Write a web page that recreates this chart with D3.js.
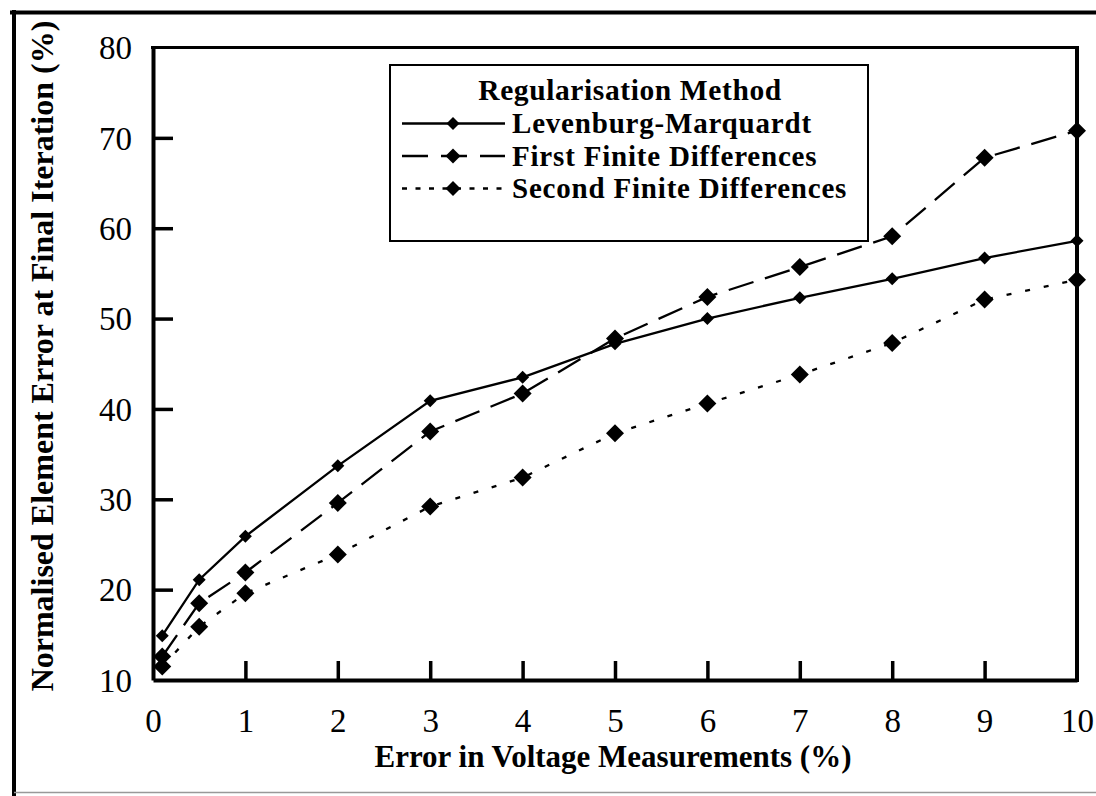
<!DOCTYPE html>
<html>
<head>
<meta charset="utf-8">
<script src="https://cdn.jsdelivr.net/npm/d3@7"></script>
<style>
  html, body { margin: 0; padding: 0; background: #fff; }
  svg { display: block; }
  text { font-family: "Liberation Serif", "Times New Roman", serif; fill: #000; }
</style>
</head>
<body>
<svg id="chart" width="1096" height="796"></svg>
<script>
// Error in voltage measurements (%)
const errorLevels = [0.1, 0.5, 1, 2, 3, 4, 5, 6, 7, 8, 9, 10];
// Normalised element error at final iteration (%)
const levenburgMarquardt = [14.9, 21.1, 25.9, 33.7, 40.9, 43.5, 47.2, 50.0, 52.3, 54.4, 56.7, 58.6];
const firstFiniteDiff    = [12.6, 18.5, 21.9, 29.6, 37.5, 41.7, 47.8, 52.4, 55.7, 59.1, 67.8, 70.8];
const secondFiniteDiff   = [11.5, 15.9, 19.6, 23.9, 29.2, 32.4, 37.3, 40.6, 43.8, 47.3, 52.1, 54.3];

const seriesNames = ["Levenburg-Marquardt", "First Finite Differences", "Second Finite Differences"];
const xTicks = [0, 1, 2, 3, 4, 5, 6, 7, 8, 9, 10];
const yTicks = [10, 20, 30, 40, 50, 60, 70, 80];

const legendTitle = "Regularisation Method";
const xTitle = "Error in Voltage Measurements (%)";
const yTitle = "Normalised Element Error at Final Iteration (%)";

const svg = d3.select("#chart");

const plot = { left: 153, right: 1077, top: 47.5, bottom: 680 };
const x = d3.scaleLinear().domain([0, 10]).range([plot.left, plot.right]);
const y = d3.scaleLinear().domain([10, 80]).range([plot.bottom, plot.top]);

// page frame
svg.append("line").attr("x1", 10).attr("x2", 1096).attr("y1", 12.5).attr("y2", 12.5)
  .attr("stroke", "#000").attr("stroke-width", 4);
svg.append("line").attr("x1", 14).attr("x2", 14).attr("y1", 10).attr("y2", 796)
  .attr("stroke", "#000").attr("stroke-width", 4);
svg.append("line").attr("x1", 14).attr("x2", 1096).attr("y1", 792.5).attr("y2", 792.5)
  .attr("stroke", "#999").attr("stroke-width", 1.5);

// axes with inward ticks
const xAxis = d3.axisBottom(x).tickValues(xTicks).tickFormat(d3.format("d"))
  .tickSizeInner(-19).tickSizeOuter(0).tickPadding(29);
const yAxis = d3.axisLeft(y).tickValues(yTicks).tickFormat(d3.format("d"))
  .tickSizeInner(-20).tickSizeOuter(0).tickPadding(21);

const gx = svg.append("g").attr("transform", `translate(0,${plot.bottom})`).call(xAxis);
const gy = svg.append("g").attr("transform", `translate(${plot.left},0)`).call(yAxis);

[gx, gy].forEach(g => {
  g.select(".domain").attr("stroke", "#000").attr("stroke-width", 4);
  g.selectAll(".tick line").attr("stroke", "#000").attr("stroke-width", 3.5);
  g.selectAll(".tick text").attr("font-family", "Liberation Serif").attr("font-size", 33).attr("fill", "#000");
});
gx.selectAll(".tick text").attr("dy", "0.71em");
gy.selectAll(".tick text").attr("dy", "0.34em");
// no tick marks on the frame corners
gx.selectAll(".tick").filter(d => d === 0 || d === 10).select("line").remove();
gy.selectAll(".tick").filter(d => d === 10 || d === 80).select("line").remove();

// top and right frame of the plot area
svg.append("line").attr("x1", plot.left - 2).attr("x2", plot.right + 2)
  .attr("y1", plot.top).attr("y2", plot.top).attr("stroke", "#000").attr("stroke-width", 3);
svg.append("line").attr("x1", plot.right).attr("x2", plot.right)
  .attr("y1", plot.top).attr("y2", plot.bottom + 2).attr("stroke", "#000").attr("stroke-width", 4);

// axis titles
svg.append("text").attr("x", 613).attr("y", 767).attr("text-anchor", "middle")
  .attr("font-size", 31).attr("font-weight", "bold").text(xTitle);
svg.append("text").attr("transform", "translate(53,356) rotate(-90)").attr("text-anchor", "middle")
  .attr("font-size", 32).attr("font-weight", "bold").text(yTitle);

// series
const series = [
  { name: seriesNames[0], values: levenburgMarquardt, dash: null, legendDash: null, marker: 13 },
  { name: seriesNames[1], values: firstFiniteDiff, dash: "26,12", legendDash: "26,13", marker: 18 },
  { name: seriesNames[2], values: secondFiniteDiff, dash: "5,14", legendDash: "5,8.5", marker: 18 }
];

const line = d3.line().x(d => x(d[0])).y(d => y(d[1]));
const diamond = s => `M0,${-s / 2}L${s / 2},0L0,${s / 2}L${-s / 2},0Z`;

series.forEach(s => {
  const pts = errorLevels.map((e, i) => [e, s.values[i]]);
  svg.append("path").datum(pts).attr("d", line).attr("fill", "none")
    .attr("stroke", "#000").attr("stroke-width", 2.3)
    .attr("stroke-dasharray", s.dash);
  svg.append("g").selectAll("path").data(pts).join("path")
    .attr("transform", d => `translate(${x(d[0])},${y(d[1])})`)
    .attr("d", diamond(s.marker)).attr("fill", "#000");
});

// legend
const legend = svg.append("g");
legend.append("rect").attr("x", 390).attr("y", 65).attr("width", 478).attr("height", 176)
  .attr("fill", "#fff").attr("stroke", "#000").attr("stroke-width", 2);
legend.append("text").attr("x", 630).attr("y", 100).attr("text-anchor", "middle")
  .attr("font-size", 29.5).attr("letter-spacing", 0.6).attr("font-weight", "bold").text(legendTitle);

series.forEach((s, i) => {
  const base = 133 + i * 32.5;
  const ly = base - 9.5;
  legend.append("line").attr("x1", 402).attr("x2", 505).attr("y1", ly).attr("y2", ly)
    .attr("stroke", "#000").attr("stroke-width", 2.3).attr("stroke-dasharray", s.legendDash);
  legend.append("path").attr("transform", `translate(453,${ly})`)
    .attr("d", diamond(i === 0 ? 13 : 15)).attr("fill", "#000");
  legend.append("text").attr("x", 512).attr("y", base).attr("font-size", 29)
    .attr("letter-spacing", 0.8).attr("font-weight", "bold").text(s.name);
});
</script>
</body>
</html>
